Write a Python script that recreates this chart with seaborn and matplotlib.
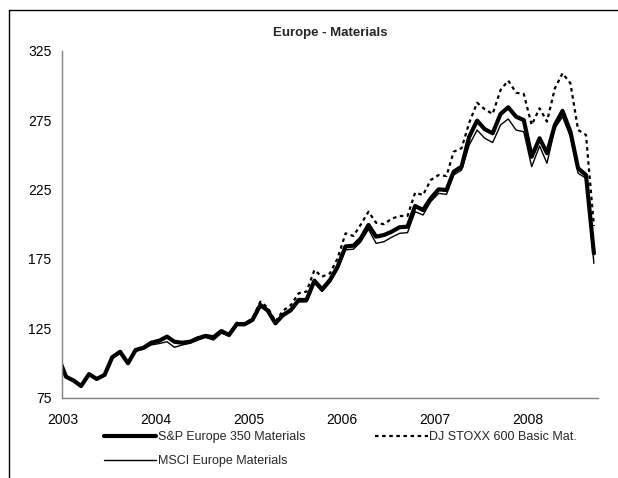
import numpy as np
import pandas as pd
import matplotlib
matplotlib.use("Agg")
import matplotlib.pyplot as plt
import matplotlib.dates as mdates
from matplotlib.lines import Line2D
import seaborn as sns

sns.set_style("white")
plt.rcParams['font.family'] = ['Liberation Sans Narrow', 'Liberation Sans', 'DejaVu Sans']

# monthly index levels, Dec 2002 .. Sep 2008 (mid-month points)
months = pd.date_range('2002-12-01', '2008-09-01', freq='MS') + pd.Timedelta(days=14)

sp_europe = [104.5,
             90.1, 87.2, 83.4, 92.0, 88.5, 91.4, 104.1, 108.1, 99.8, 109.4, 111.0, 114.6,
             116.0, 119.0, 115.3, 114.6, 115.3, 117.8, 119.5, 118.5, 123.0, 120.2, 128.1, 127.9,
             131.0, 141.8, 138.0, 128.6, 134.6, 138.2, 145.4, 145.4, 159.3, 153.0, 159.8, 169.4,
             184.0, 184.5, 189.5, 199.4, 191.0, 192.2, 194.6, 197.8, 198.2, 213.1, 210.2, 218.6,
             225.1, 224.6, 237.8, 241.4, 263.0, 274.6, 268.4, 265.5, 279.4, 284.2, 277.4, 275.0,
             248.6, 261.9, 251.1, 271.5, 281.6, 266.6, 240.3, 235.4, 179.0]

dj_stoxx = [104.5,
            90.5, 87.5, 83.5, 92.0, 89.0, 91.5, 104.5, 108.0, 100.0, 109.0, 111.5, 115.0,
            116.5, 119.0, 115.5, 115.0, 115.5, 118.5, 120.0, 119.0, 123.5, 120.5, 129.0, 128.5,
            132.0, 144.2, 140.1, 129.8, 137.7, 141.8, 150.2, 151.4, 167.0, 162.2, 164.6, 175.4,
            193.4, 191.5, 199.5, 209.0, 201.0, 200.0, 204.0, 205.9, 205.9, 222.7, 221.0, 231.8,
            235.4, 234.7, 252.2, 254.7, 273.0, 287.5, 282.8, 279.4, 296.7, 303.4, 294.7, 293.8,
            271.5, 283.5, 273.9, 297.9, 308.7, 301.5, 267.9, 264.3, 198.7]

msci_europe = [104.5,
               90.1, 87.2, 83.4, 92.0, 88.5, 91.4, 103.5, 107.0, 99.0, 108.5, 110.0, 113.0,
               114.0, 115.3, 111.3, 113.0, 114.2, 116.5, 118.5, 116.5, 121.5, 119.5, 127.0, 127.0,
               130.5, 140.5, 137.0, 128.0, 133.5, 137.0, 144.0, 144.0, 157.5, 151.5, 158.0, 167.5,
               181.5, 182.0, 187.0, 196.3, 186.2, 187.4, 190.6, 193.4, 193.9, 209.0, 206.6, 216.2,
               222.2, 221.5, 235.4, 239.0, 257.0, 267.8, 261.9, 258.8, 271.5, 275.8, 267.8, 266.6,
               241.4, 256.3, 243.9, 269.1, 277.4, 263.0, 236.7, 233.1, 171.8]

labels = ['S&P Europe 350 Materials', 'MSCI Europe Materials', 'DJ STOXX 600 Basic Mat.']
y_ticks = [75, 125, 175, 225, 275, 325]

fig = plt.figure(figsize=(6.18, 4.78), dpi=100)
ax = fig.add_axes([0.1011, 0.168, 0.8665, 0.726])

sns.lineplot(x=months, y=sp_europe, ax=ax, color='black', linewidth=3.0, label=labels[0])
sns.lineplot(x=months, y=dj_stoxx, ax=ax, color='black', linewidth=1.6,
             linestyle=(0, (1.6, 1.6)), label=labels[2])
sns.lineplot(x=months, y=msci_europe, ax=ax, color='black', linewidth=1.0, label=labels[1])

ax.set_xlim(pd.Timestamp('2003-01-01'), pd.Timestamp('2008-10-01'))
ax.set_ylim(75, 325)
ax.set_yticks(y_ticks)
ax.xaxis.set_major_locator(mdates.YearLocator())
ax.xaxis.set_major_formatter(mdates.DateFormatter('%Y'))
ax.set_xlabel('')
ax.set_ylabel('')

for side in ['top', 'right']:
    ax.spines[side].set_visible(False)
for side in ['left', 'bottom']:
    ax.spines[side].set_color('#808080')
    ax.spines[side].set_linewidth(1.0)
ax.tick_params(axis='both', direction='out', length=3, width=1, color='#808080',
               labelsize=10, labelcolor='black')
ax.tick_params(axis='y', pad=5)
ax.tick_params(axis='x', pad=8)

# legend below the plot, two columns
handles, lbls = ax.get_legend_handles_labels()
order = [lbls.index(l) for l in labels]
ax.get_legend().remove()
fig.legend([handles[i] for i in order], [lbls[i] for i in order],
           loc='upper left', bbox_to_anchor=(0.168, 0.098), ncol=2, frameon=False,
           fontsize=9, handlelength=4.2, handletextpad=0.1, columnspacing=5.6,
           labelspacing=0.95, borderpad=0, borderaxespad=0)

fig.text(0.534, 0.931, 'Europe - Materials', ha='center', va='center',
         fontsize=9.5, fontweight='bold')

# outer frame (left and top edges)
fig.add_artist(Line2D([0.0146, 0.0146], [0.0, 0.979], transform=fig.transFigure,
                      color='black', linewidth=1.0))
fig.add_artist(Line2D([0.0146, 1.0], [0.979, 0.979], transform=fig.transFigure,
                      color='black', linewidth=1.0))

fig.savefig('out.png', dpi=100)
